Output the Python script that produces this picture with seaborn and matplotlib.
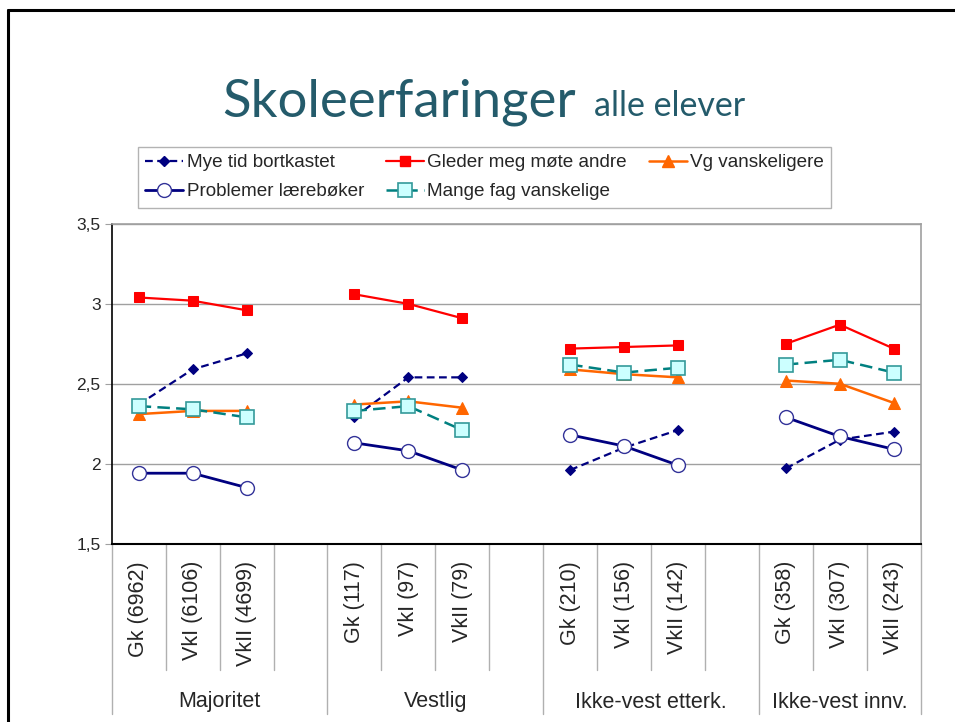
import matplotlib
matplotlib.use("Agg")
import pandas as pd
import matplotlib.pyplot as plt
import matplotlib.transforms as mtransforms
from matplotlib.lines import Line2D
import seaborn as sns

# ====================
# DATA
# ====================
grupper = ["Majoritet", "Vestlig", "Ikke-vest etterk.", "Ikke-vest innv."]
kategorier = ["Gk (6962)", "VkI (6106)", "VkII (4699)",
              "Gk (117)", "VkI (97)", "VkII (79)",
              "Gk (210)", "VkI (156)", "VkII (142)",
              "Gk (358)", "VkI (307)", "VkII (243)"]

mye_tid = [2.37, 2.59, 2.69, 2.29, 2.54, 2.54, 1.96, 2.10, 2.21, 1.97, 2.15, 2.20]
gleder = [3.04, 3.02, 2.96, 3.06, 3.00, 2.91, 2.72, 2.73, 2.74, 2.75, 2.87, 2.72]
vg_vansk = [2.31, 2.33, 2.33, 2.37, 2.39, 2.35, 2.59, 2.56, 2.54, 2.52, 2.50, 2.38]
problemer = [1.94, 1.94, 1.85, 2.13, 2.08, 1.96, 2.18, 2.11, 1.99, 2.29, 2.17, 2.09]
mange_fag = [2.36, 2.34, 2.29, 2.33, 2.36, 2.21, 2.62, 2.57, 2.60, 2.62, 2.65, 2.57]

navn = ["Mye tid bortkastet", "Gleder meg møte andre", "Vg vanskeligere",
        "Problemer lærebøker", "Mange fag vanskelige"]
verdier = [mye_tid, gleder, vg_vansk, problemer, mange_fag]

# ====================
# STIL
# ====================
stiler = [
    dict(color="#000080", linestyle=(0, (3.5, 2)), linewidth=1.6, marker="D",
         markersize=5.5, markerfacecolor="#000080", markeredgecolor="#000080"),
    dict(color="#FF0000", linestyle="-", linewidth=1.6, marker="s",
         markersize=6.5, markerfacecolor="#FF0000", markeredgecolor="#FF0000"),
    dict(color="#FF6600", linestyle="-", linewidth=1.8, marker="^",
         markersize=9, markerfacecolor="#FF6600", markeredgecolor="#FF6600"),
    dict(color="#000080", linestyle="-", linewidth=2.0, marker="o",
         markersize=10, markerfacecolor="white", markeredgecolor="#333399",
         markeredgewidth=1.0),
    dict(color="#008080", linestyle=(0, (5, 2.5)), linewidth=1.8, marker="s",
         markersize=10, markerfacecolor="#CCFFFF", markeredgecolor="#339999",
         markeredgewidth=1.2),
]

rader = []
for s, vals in zip(navn, verdier):
    for k, v in enumerate(vals):
        g = k // 3
        rader.append({"serie": s, "gruppe": grupper[g], "pos": 4 * g + k % 3, "verdi": v})
df = pd.DataFrame(rader)

sns.set_style("white")
plt.rcParams["font.family"] = ["Liberation Sans", "DejaVu Sans"]

fig = plt.figure(figsize=(9.55, 7.22), dpi=100)
W, H = 955, 722
ax = fig.add_axes([111.7 / W, 1 - 543.5 / H, (920.7 - 111.7) / W, (543.5 - 224) / H])

for i, (s, st) in enumerate(zip(navn, stiler)):
    sns.lineplot(data=df[df["serie"] == s], x="pos", y="verdi", units="gruppe",
                 estimator=None, ax=ax, zorder=3 + i, legend=False, **st)

# akser
ax.set_xlim(-0.5, 14.5)
ax.set_ylim(1.5, 3.5)
ax.set_yticks([1.5, 2, 2.5, 3, 3.5])
ax.set_yticklabels(["1,5", "2", "2,5", "3", "3,5"])
ax.set_xticks([])
ax.set_xlabel("")
ax.set_ylabel("")
ax.yaxis.grid(True, color="#A0A0A0", linewidth=1.0)
ax.tick_params(axis="y", left=True, length=5, color="#A0A0A0", labelsize=12.5, pad=3)
for side in ["top", "right"]:
    ax.spines[side].set_color("#A0A0A0")
    ax.spines[side].set_linewidth(1.2)
ax.spines["left"].set_color("black")
ax.spines["bottom"].set_color("black")
ax.spines["left"].set_linewidth(1.2)
ax.spines["bottom"].set_linewidth(1.5)

# kategori-etiketter og skillelinjer
trans = mtransforms.blended_transform_factory(ax.transData, ax.transAxes)
ax_h = 543.5 - 224
for b in [0.5, 1.5, 2.5, 4.5, 5.5, 6.5, 8.5, 9.5, 10.5, 12.5, 13.5]:
    ax.plot([b, b], [0, -(670 - 543.5) / ax_h], transform=trans, color="#B0B0B0",
            linewidth=1.0, clip_on=False)
for b in [-0.5, 3.5, 7.5, 11.5, 14.5]:
    ax.plot([b, b], [0, -(714 - 543.5) / ax_h], transform=trans, color="#B0B0B0",
            linewidth=1.0, clip_on=False)

for k, lab in enumerate(kategorier):
    pos = 4 * (k // 3) + k % 3
    ax.text(pos, -(561 - 543.5) / ax_h, lab, transform=trans, rotation=90,
            ha="center", va="top", fontsize=15.5)
for g, lab in zip([1.5, 5.5, 9.5, 13.0], grupper):
    ax.text(g, -(702 - 543.5) / ax_h, lab, transform=trans, ha="center",
            va="center", fontsize=15.5)

# legend (matplotlib fyller kolonnevis -> omorganiser for radvis rekkefolge)
handles = [Line2D([], [], **st) for st in stiler]
rekkefolge = [0, 3, 1, 4, 2]
leg = fig.legend([handles[i] for i in rekkefolge], [navn[i] for i in rekkefolge],
                 ncol=3, loc="upper left",
                 bbox_to_anchor=(138 / W, 1 - 147 / H), frameon=True, fancybox=False,
                 edgecolor="#A0A0A0", fontsize=13.6, handlelength=2.0,
                 handletextpad=0.2, columnspacing=1.15, labelspacing=0.62,
                 borderpad=0.38, borderaxespad=0)
leg.get_frame().set_linewidth(1.0)

# tittel
tittel_farge = "#245B6B"
fig.text(222 / W, 1 - 116 / H, "Skoleerfaringer", fontsize=38, color=tittel_farge,
         family=["Lato", "DejaVu Sans"], va="baseline")
fig.text(594 / W, 1 - 116 / H, "alle elever", fontsize=24.5, color=tittel_farge,
         family=["Lato", "DejaVu Sans"], va="baseline")

# ramme
fig.add_artist(Line2D([8 / W, 8 / W], [0, 1 - 10 / H], color="black", linewidth=2.2,
                      transform=fig.transFigure))
fig.add_artist(Line2D([8 / W, 1], [1 - 10 / H, 1 - 10 / H], color="black", linewidth=2.2,
                      transform=fig.transFigure))

fig.savefig("out.png", dpi=100)
